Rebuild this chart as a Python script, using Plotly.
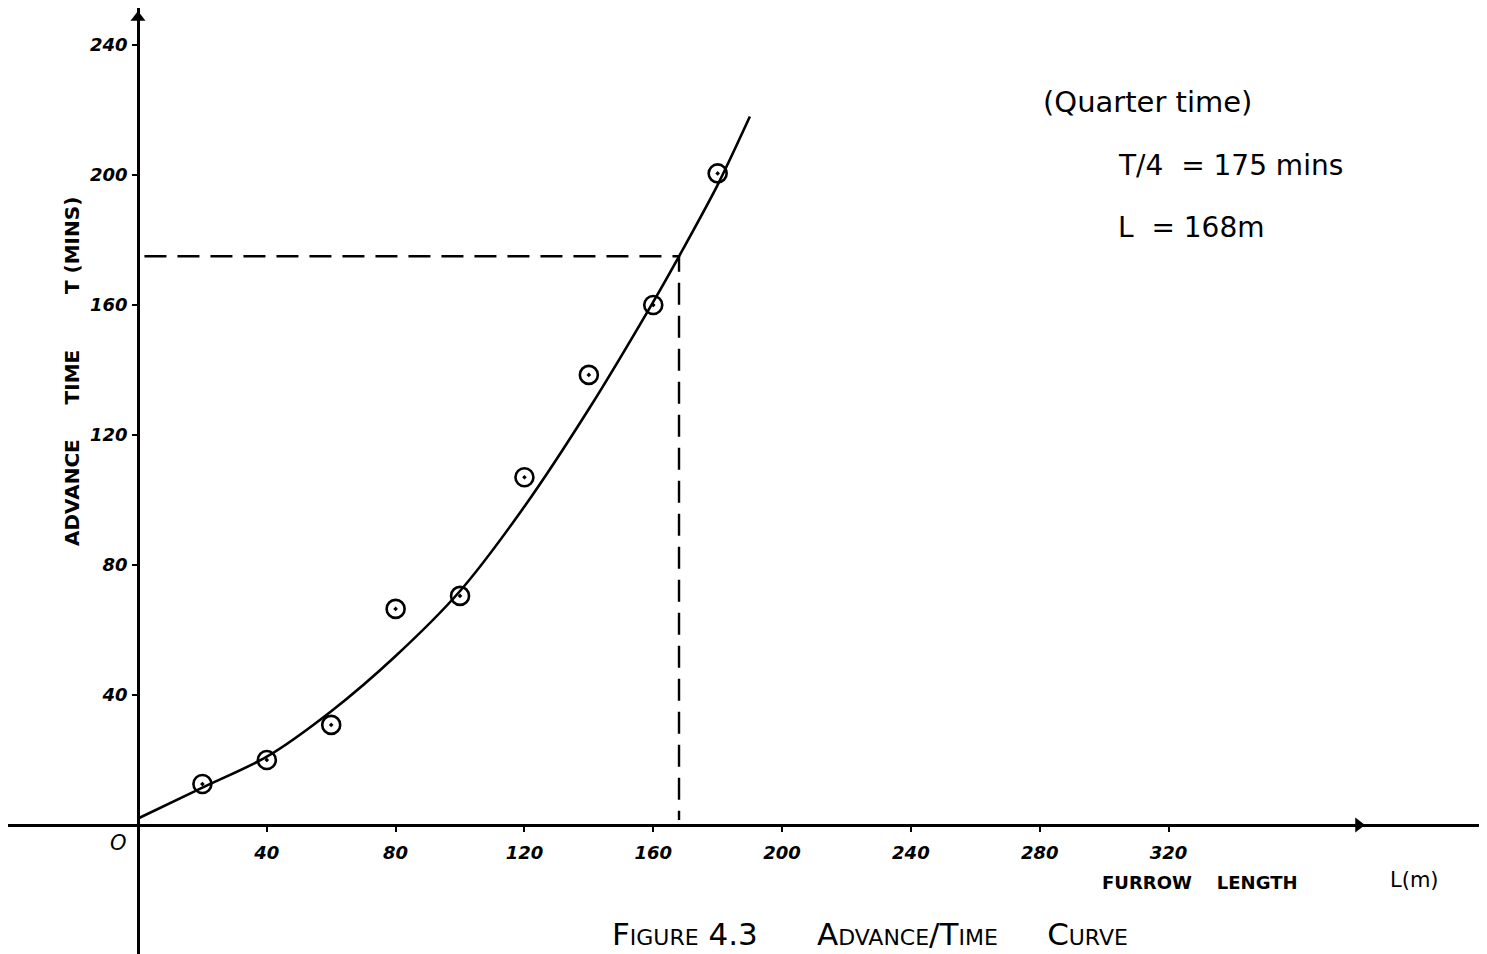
import plotly.graph_objects as go

# ---- data ----
obs_L = [20, 40, 60, 80, 100, 120, 140, 160, 180]
obs_T = [12.6, 20, 30.8, 66.5, 70.5, 107, 138.5, 160, 200.5]

curve_L = [0, 20, 40, 60, 80, 100, 120, 140, 160, 168, 180, 190]
curve_T = [2, 11.5, 21, 35, 52, 72, 98, 128, 161, 175, 197, 218]

quarter_L = 168
quarter_T = 175

x_ticks = [40, 80, 120, 160, 200, 240, 280, 320]
y_ticks = [40, 80, 120, 160, 200, 240]

# page body has an 8px margin, so the figure is drawn 8px right/down
OFF = 8
W, H = 1487 - OFF, 954 - OFF
X_RANGE = [-40.37, 418.9]
Y_RANGE = [-39.7, 251.4]


def px(x):
    return (x - OFF) / W


def py(y):
    return 1 - (y - OFF) / H


FONT = "DejaVu Sans"
fig = go.Figure()

# fitted curve
fig.add_trace(go.Scatter(x=curve_L, y=curve_T, mode="lines",
                         line=dict(color="black", width=2.6, shape="spline", smoothing=0.8),
                         hoverinfo="skip", showlegend=False))
# observed points
fig.add_trace(go.Scatter(x=obs_L, y=obs_T, mode="markers",
                         marker=dict(symbol="circle-open-dot", size=18, color="black",
                                     line=dict(width=2.6, color="black")),
                         showlegend=False))
# quarter-time dashed guides
fig.add_trace(go.Scatter(x=[2, quarter_L, quarter_L], y=[quarter_T, quarter_T, 1.5], mode="lines",
                         line=dict(color="black", width=2.4, dash="22px,11px"),
                         hoverinfo="skip", showlegend=False))
# axis arrowheads
fig.add_trace(go.Scatter(x=[0], y=[248.5], mode="markers",
                         marker=dict(symbol="triangle-up", size=13, color="black"),
                         hoverinfo="skip", showlegend=False))
fig.add_trace(go.Scatter(x=[379], y=[0], mode="markers",
                         marker=dict(symbol="triangle-right", size=13, color="black"),
                         hoverinfo="skip", showlegend=False))

x_axis_pos = (0 - Y_RANGE[0]) / (Y_RANGE[1] - Y_RANGE[0])
y_axis_pos = (0 - X_RANGE[0]) / (X_RANGE[1] - X_RANGE[0])

fig.update_layout(
    width=W, height=H,
    margin=dict(l=0, r=0, t=0, b=0),
    paper_bgcolor="white", plot_bgcolor="white",
    showlegend=False,
    xaxis=dict(range=X_RANGE, anchor="free", position=x_axis_pos,
               showgrid=False, zeroline=False, showline=True, linecolor="black", linewidth=2.6,
               tickmode="array", tickvals=x_ticks, ticktext=[str(v) for v in x_ticks],
               ticks="outside", ticklen=5, tickwidth=2, tickcolor="black",
               ticklabelstandoff=6,
               tickfont=dict(family=FONT, size=18, color="black", style="italic", weight="bold")),
    yaxis=dict(range=Y_RANGE, anchor="free", position=y_axis_pos,
               showgrid=False, zeroline=False, showline=True, linecolor="black", linewidth=2.6,
               tickmode="array", tickvals=y_ticks, ticktext=[str(v) for v in y_ticks],
               ticks="outside", ticklen=5, tickwidth=2, tickcolor="black",
               ticklabelstandoff=1,
               tickfont=dict(family=FONT, size=18, color="black", style="italic", weight="bold")),
)

ann = []


def note(x, y, text, size, xanchor="center", **kw):
    font = dict(family=FONT, size=size, color="black")
    font.update(kw.pop("font", {}))
    d = dict(x=px(x), y=py(y), xref="paper", yref="paper", text=text, showarrow=False,
             xanchor=xanchor, yanchor="middle", font=font)
    d.update(kw)
    ann.append(d)


# origin label
note(118, 843, "O", 21, font=dict(style="italic"))
# y-axis title
note(72, 372, "ADVANCE&nbsp;&nbsp;&nbsp;&nbsp;&nbsp;TIME&nbsp;&nbsp;&nbsp;&nbsp;&nbsp;&nbsp;&nbsp;&nbsp;T&nbsp;(MINS)", 20,
     textangle=-90, font=dict(weight="bold"))
# x-axis title
note(1100, 882, "FURROW&nbsp;&nbsp;&nbsp;&nbsp;LENGTH", 18, xanchor="left", font=dict(weight="bold"))
note(1388, 880, "L(m)", 21, xanchor="left")
# caption
note(870, 934, "Figure 4.3&nbsp;&nbsp;&nbsp;&nbsp;&nbsp;&nbsp;Advance/Time&nbsp;&nbsp;&nbsp;&nbsp;&nbsp;Curve", 31,
     font=dict(variant="small-caps"))
# upper-right notes
note(1041, 102, "(Quarter time)", 29, xanchor="left")
note(1116, 165, "T/4&nbsp;&nbsp;= 175 mins", 28, xanchor="left")
note(1116, 228, "L&nbsp;&nbsp;= 168m", 28, xanchor="left")

fig.update_layout(annotations=ann)
fig.write_html("out.html")
